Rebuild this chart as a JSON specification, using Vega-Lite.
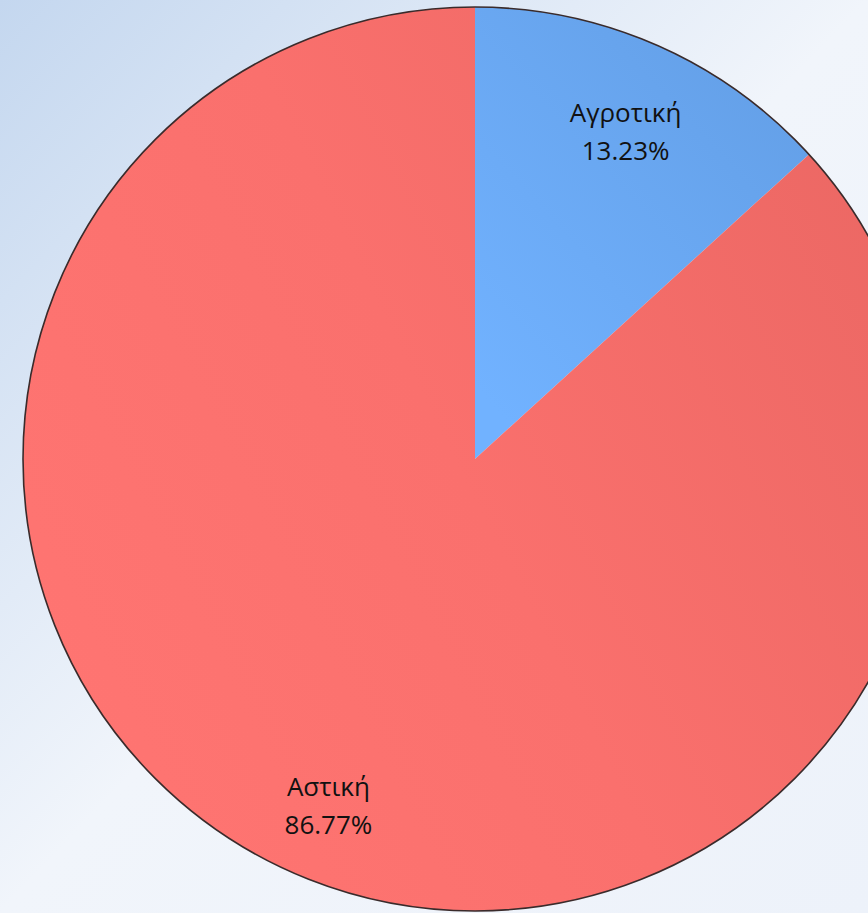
{
  "$schema": "https://vega.github.io/schema/vega-lite/v6.json",
  "width": 868,
  "height": 913,
  "autosize": {"type": "none"},
  "padding": 0,
  "background": "#F3F6FB",
  "config": {"view": {"stroke": null}},
  "data": {"values": [
    {"type": "Αγροτική", "pct": 13.23},
    {"type": "Αστική", "pct": 86.77}
  ]},
  "transform": [
    {"calculate": "datum.type + '\\n' + format(datum.pct, '.2f') + '%'", "as": "label"}
  ],
  "layer": [
    {
      "data": {"values": [{"k": "background"}]},
      "mark": {"type": "rect", "strokeWidth": 0,
        "color": {"gradient": "linear", "x1": 0, "y1": 0, "x2": 1, "y2": 1,
          "stops": [{"offset": 0, "color": "#C4D7EF"}, {"offset": 0.5, "color": "#F1F5FB"}, {"offset": 1, "color": "#EDF2FA"}]}},
      "encoding": {}
    },
    {
      "mark": {"type": "arc", "radius": 452, "x": 475, "y": 459, "stroke": null},
      "encoding": {
        "theta": {"field": "pct", "type": "quantitative", "stack": true},
        "color": {
          "condition": {"test": "datum.type === 'Αγροτική'",
            "value": {"gradient": "linear", "x1": 1, "y1": 0, "x2": 0.2, "y2": 1,
              "stops": [{"offset": 0, "color": "#629DE4"}, {"offset": 1, "color": "#71B2FF"}]}},
          "value": {"gradient": "linear", "x1": 1, "y1": 0.3, "x2": 0, "y2": 0.8,
            "stops": [{"offset": 0, "color": "#EC6864"}, {"offset": 0.5, "color": "#FA706D"}, {"offset": 1, "color": "#FF7572"}]}
        }
      }
    },
    {
      "data": {"values": [{"k": "outline"}]},
      "mark": {"type": "arc", "radius": 452, "x": 475, "y": 459, "theta": 0, "theta2": 6.2832, "filled": false, "stroke": "#3A2B2B", "strokeWidth": 1.6},
      "encoding": {}
    },
    {
      "mark": {"type": "text", "radius": 368, "x": 477, "y": 451, "font": "Open Sans", "fontSize": 26, "lineBreak": "\n", "lineHeight": 38, "align": "center", "baseline": "middle", "color": "#111111"},
      "encoding": {
        "theta": {"field": "pct", "type": "quantitative", "stack": true},
        "text": {"field": "label", "type": "nominal"}
      }
    }
  ]
}
